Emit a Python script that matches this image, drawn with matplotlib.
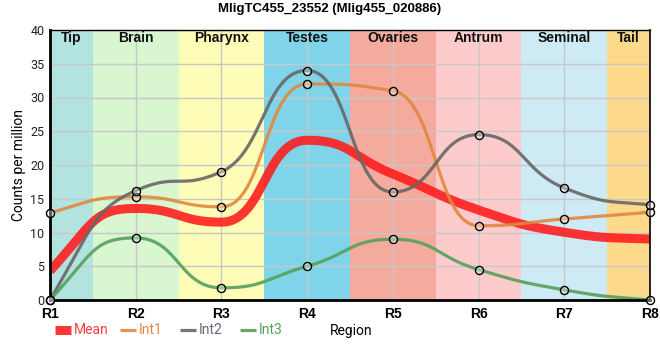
import numpy as np
import matplotlib
matplotlib.use("Agg")
import matplotlib.pyplot as plt
from matplotlib.lines import Line2D

regions = ["R1", "R2", "R3", "R4", "R5", "R6", "R7", "R8"]
int1 = [12.9, 15.3, 13.8, 32.0, 31.0, 11.0, 12.0, 13.0]
int2 = [0.0, 16.2, 19.0, 34.0, 16.0, 24.5, 16.6, 14.1]
int3 = [0.0, 9.2, 1.8, 5.0, 9.0, 4.5, 1.5, 0.0]
band_names = ["Tip", "Brain", "Pharynx", "Testes", "Ovaries", "Antrum", "Seminal", "Tail"]
band_edges = [0, 0.5, 1.5, 2.5, 3.5, 4.5, 5.5, 6.5, 7]
band_colors = ["#b3e3df", "#d8f6d0", "#fefdb8", "#80d4ea", "#f4ab9d", "#fdcbcb", "#ceeaf4", "#fdd98b"]


def smooth(xs, ys, k=0.5, n=60):
    """Monotone tangents, drawn as cubic Bezier segments with control arms k*dx."""
    xs = np.asarray(xs, float); ys = np.asarray(ys, float)
    h = np.diff(xs); s = np.diff(ys) / h
    m = len(xs)
    t = np.zeros(m)
    for i in range(1, m - 1):
        p = (s[i - 1] * h[i] + s[i] * h[i - 1]) / (h[i - 1] + h[i])
        t[i] = (np.sign(s[i - 1]) + np.sign(s[i])) * min(abs(s[i - 1]), abs(s[i]), 0.5 * abs(p))
    t[0] = (3 * s[0] - t[1]) / 2
    t[-1] = (3 * s[-1] - t[-2]) / 2
    X, Y = [], []
    u = np.linspace(0, 1, n)
    b0 = (1 - u) ** 3; b1 = 3 * (1 - u) ** 2 * u; b2 = 3 * (1 - u) * u ** 2; b3 = u ** 3
    for i in range(m - 1):
        d = k * h[i]
        px = [xs[i], xs[i] + d, xs[i + 1] - d, xs[i + 1]]
        py = [ys[i], ys[i] + d * t[i], ys[i + 1] - d * t[i + 1], ys[i + 1]]
        X.append(b0 * px[0] + b1 * px[1] + b2 * px[2] + b3 * px[3])
        Y.append(b0 * py[0] + b1 * py[1] + b2 * py[2] + b3 * py[3])
    return np.concatenate(X), np.concatenate(Y)


x = np.arange(len(regions))
mean = (np.array(int1) + np.array(int2) + np.array(int3)) / 3

fig = plt.figure(figsize=(6.6, 3.6), dpi=100)
ax = fig.add_axes([50 / 660, 1 - 300 / 360, 600 / 660, 270 / 360])

for i, name in enumerate(band_names):
    ax.axvspan(band_edges[i], band_edges[i + 1], color=band_colors[i], zorder=0, lw=0)
    ax.text((band_edges[i] + band_edges[i + 1]) / 2, 38.8, name, ha="center", va="center",
            fontsize=10, fontweight="bold", color="#111111", zorder=5, family="Liberation Sans")

ax.set_xlim(0, 7)
ax.set_ylim(0, 40)
ax.set_xticks(x)
ax.set_xticklabels(regions, fontsize=10, fontweight="bold", family="Liberation Sans")
ax.set_yticks(np.arange(0, 41, 5))
ax.set_yticklabels([str(v) for v in range(0, 41, 5)], family="Roboto", fontsize=9, color="#222222")
ax.tick_params(axis="y", length=0, pad=4)
ax.tick_params(axis="x", length=0, pad=5)
ax.grid(True, color="#c8c8c8", lw=1, zorder=1)
for l in ax.get_xgridlines() + ax.get_ygridlines():
    l.set_zorder(1)

ax.spines["left"].set_linewidth(2)
ax.spines["bottom"].set_linewidth(2)
ax.spines["right"].set_linewidth(1.2)
ax.spines["top"].set_linewidth(1)
for sp in ax.spines.values():
    sp.set_zorder(7)

mx, my = smooth(x, mean)
ax.plot(mx, my, color="#ff1a1a", lw=6.5, alpha=0.88, zorder=3, solid_capstyle="butt")

series = [(int1, "#e0883f"), (int2, "#676767"), (int3, "#55a05c")]
for vals, col in series:
    sx, sy = smooth(x, vals)
    ax.plot(sx, sy, color=col, lw=2.3, alpha=0.9, zorder=4, solid_capstyle="butt")

for vals, col in series:
    ax.plot(x, vals, ls="none", marker="o", ms=5.8, mfc=(1, 1, 1, 0.35), mec="black", mew=1,
            zorder=8, clip_on=False)

ax.set_ylabel("Counts per million", fontsize=10, labelpad=3, family="Roboto")
fig.text(351 / 660, 1 - 331 / 360, "Region", ha="center", va="center", fontsize=10, family="Roboto")
fig.text(0.5, 1 - 9 / 360, "MligTC455_23552 (Mlig455_020886)", ha="center", va="center",
         fontsize=9.5, fontweight="bold", family="Liberation Sans")

# legend entries
leg_items = [("Mean", "#ff2020", "#ff4040", 6.5, 55, 74),
             ("Int1", "#e0883f", "#e0883f", 2.3, 120, 139),
             ("Int2", "#676767", "#666677", 2.3, 180, 199),
             ("Int3", "#55a05c", "#55a05c", 2.3, 240, 259)]
ly = 1 - 330 / 360
for lab, lc, tc, lw, hx, tx in leg_items:
    fig.add_artist(Line2D([hx / 660, (hx + 16) / 660], [ly, ly], color=lc, lw=lw, alpha=0.9,
                          solid_capstyle="butt", transform=fig.transFigure))
    fig.text(tx / 660, ly, lab, ha="left", va="center", fontsize=10, color=tc, family="Roboto")

fig.savefig("out.png", dpi=100)
